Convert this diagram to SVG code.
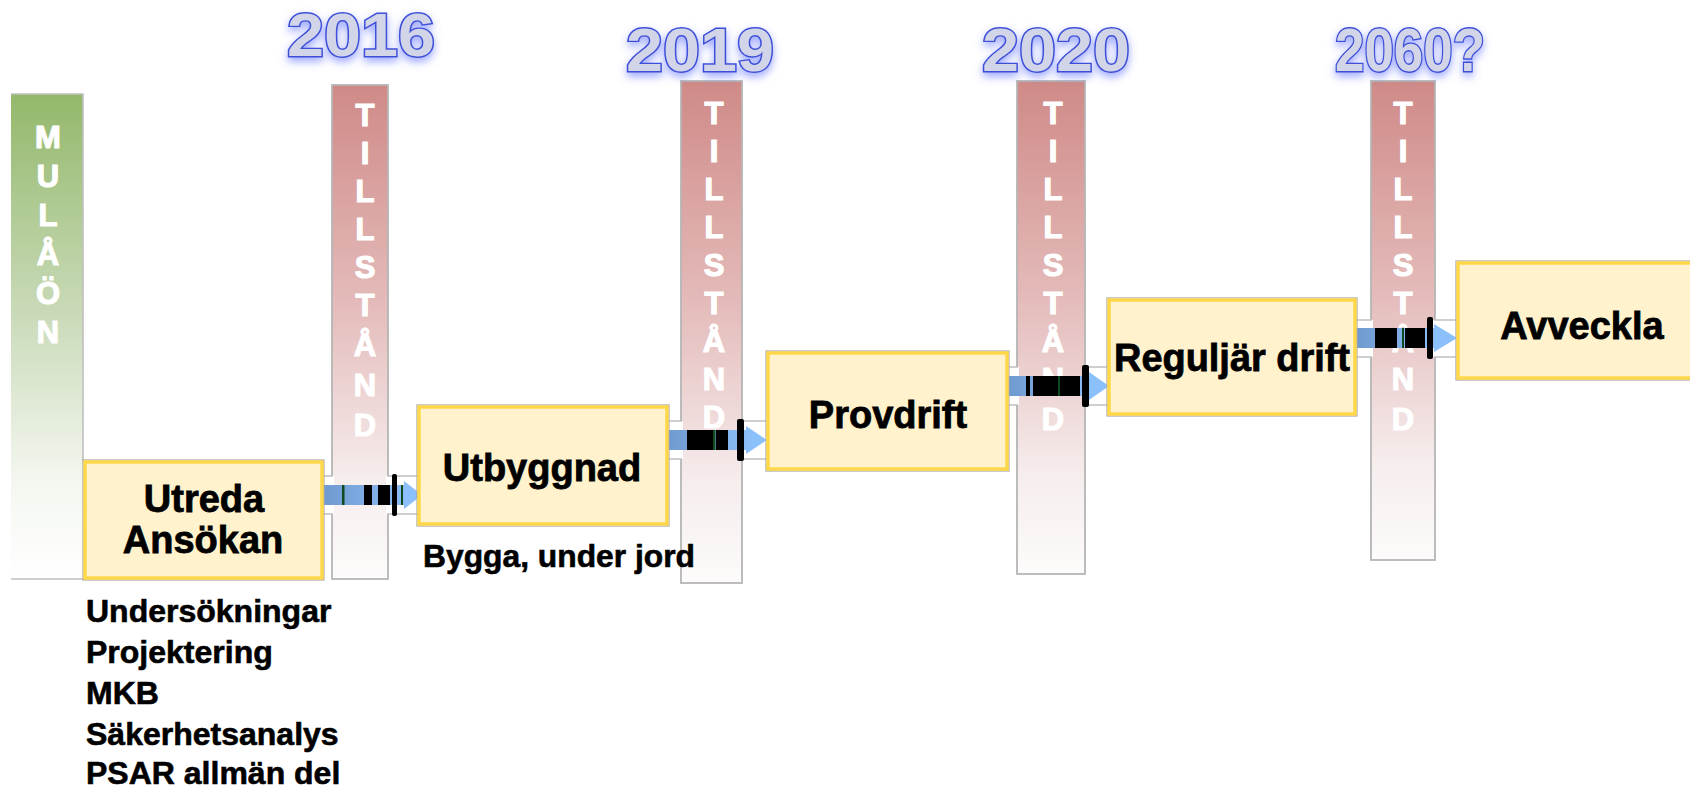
<svg xmlns="http://www.w3.org/2000/svg" width="1690" height="788" viewBox="0 0 1690 788">
<defs>
<style>
.box{fill:#fff2cc;stroke:#ffd84a;stroke-width:3.5}
.boxo{fill:none;stroke:#a8a8a8;stroke-width:1.2}
.bar{stroke:#b5b5b5;stroke-width:1.8}
.t{font-family:"Liberation Sans",Arial,sans-serif;font-weight:bold;font-size:38px;fill:#000;stroke:#000;stroke-width:0.8;text-anchor:middle}
.s{font-family:"Liberation Sans",Arial,sans-serif;font-weight:bold;font-size:32px;fill:#000;stroke:#000;stroke-width:0.6}
.v{font-family:"Liberation Sans",Arial,sans-serif;font-weight:bold;font-size:31px;fill:#fff;stroke:#fff;stroke-width:1.2;text-anchor:middle}
.yr{font-family:"Liberation Sans",Arial,sans-serif;font-weight:bold;font-size:62px;fill:#d2d5e8;stroke:#3d4fd8;stroke-width:2.8;paint-order:stroke;text-anchor:middle}
.ch{stroke:#c0c0c0;stroke-width:1.6;fill:none}
.chw{fill:#fff}
.blk{fill:#000}
.grn{fill:#0e4a20}
.head{fill:#8cc0fa}
</style>
<linearGradient id="gRed" x1="0" y1="0" x2="0" y2="1">
<stop offset="0" stop-color="#cf8a87"/>
<stop offset="0.45" stop-color="#e4bcbb"/>
<stop offset="0.8" stop-color="#f6eded"/>
<stop offset="1" stop-color="#fdfbfb"/>
</linearGradient>
<linearGradient id="gGreen" x1="0" y1="0" x2="0" y2="1">
<stop offset="0" stop-color="#93b86b"/>
<stop offset="0.45" stop-color="#c9dab8"/>
<stop offset="0.8" stop-color="#f4f7f0"/>
<stop offset="1" stop-color="#ffffff"/>
</linearGradient>
<linearGradient id="gBand" x1="0" y1="0" x2="1" y2="0">
<stop offset="0" stop-color="#6f9ad0"/>
<stop offset="1" stop-color="#8cbdf6"/>
</linearGradient>
<filter id="glow" x="-20%" y="-30%" width="140%" height="170%">
<feGaussianBlur in="SourceAlpha" stdDeviation="4"/>
<feOffset dx="0" dy="4" result="b"/>
<feFlood flood-color="#5a6cff" flood-opacity="0.6"/>
<feComposite in2="b" operator="in"/>
<feMerge><feMergeNode/><feMergeNode in="SourceGraphic"/></feMerge>
</filter>
</defs>
<rect width="1690" height="788" fill="#fff"/>

<g id="milj">
<rect x="11" y="94" width="72" height="485" fill="url(#gGreen)"/>
<path d="M11,94 H83 V462 M11,579 H84" class="ch" stroke="#b5b5b5"/>
<text class="v" x="48"><tspan x="48" y="148">M</tspan><tspan x="48" y="187">U</tspan><tspan x="48" y="226">L</tspan><tspan x="48" y="265">Å</tspan><tspan x="48" y="304">Ö</tspan><tspan x="48" y="343">N</tspan></text>
</g>

<g id="tillstand1">
<rect class="bar" x="332" y="85" width="56" height="494" fill="url(#gRed)"/>
<text class="v"><tspan x="365" y="126">T</tspan><tspan x="365" y="164">I</tspan><tspan x="365" y="202">L</tspan><tspan x="365" y="240">L</tspan><tspan x="365" y="278">S</tspan><tspan x="365" y="316">T</tspan><tspan x="365" y="356">Å</tspan><tspan x="365" y="396">N</tspan><tspan x="365" y="436">D</tspan></text>
</g>
<g id="tillstand2">
<rect class="bar" x="681" y="81" width="61" height="502" fill="url(#gRed)"/>
<text class="v"><tspan x="714" y="124">T</tspan><tspan x="714" y="162">I</tspan><tspan x="714" y="200">L</tspan><tspan x="714" y="238">L</tspan><tspan x="714" y="276">S</tspan><tspan x="714" y="314">T</tspan><tspan x="714" y="352">Å</tspan><tspan x="714" y="390">N</tspan><tspan x="714" y="428">D</tspan></text>
</g>
<g id="tillstand3">
<rect class="bar" x="1017" y="81" width="68" height="493" fill="url(#gRed)"/>
<text class="v"><tspan x="1053" y="124">T</tspan><tspan x="1053" y="162">I</tspan><tspan x="1053" y="200">L</tspan><tspan x="1053" y="238">L</tspan><tspan x="1053" y="276">S</tspan><tspan x="1053" y="314">T</tspan><tspan x="1053" y="352">Å</tspan><tspan x="1053" y="390">N</tspan><tspan x="1053" y="430">D</tspan></text>
</g>
<g id="tillstand4">
<rect class="bar" x="1371" y="81" width="64" height="479" fill="url(#gRed)"/>
<text class="v"><tspan x="1403" y="124">T</tspan><tspan x="1403" y="162">I</tspan><tspan x="1403" y="200">L</tspan><tspan x="1403" y="238">L</tspan><tspan x="1403" y="276">S</tspan><tspan x="1403" y="314">T</tspan><tspan x="1403" y="352">Å</tspan><tspan x="1403" y="390">N</tspan><tspan x="1403" y="430">D</tspan></text>
</g>

<g id="years">
<text class="yr" x="361" y="56" textLength="148" lengthAdjust="spacingAndGlyphs" filter="url(#glow)">2016</text>
<text class="yr" x="700" y="71" textLength="148" lengthAdjust="spacingAndGlyphs" filter="url(#glow)">2019</text>
<text class="yr" x="1056" y="71" textLength="148" lengthAdjust="spacingAndGlyphs" filter="url(#glow)">2020</text>
<text class="yr" x="1410" y="71" textLength="150" lengthAdjust="spacingAndGlyphs" filter="url(#glow)">2060?</text>
</g>

<g id="connectors">
<rect class="chw" x="323" y="476" width="11" height="38"/>
<rect class="chw" x="386" y="476" width="33" height="38"/>
<path class="ch" d="M323,476 H333 M323,514 H333 M387,476 H419 M387,514 H419"/>
<rect x="323" y="485" width="82" height="20" fill="url(#gBand)"/>
<rect class="grn" x="342" y="485" width="2.5" height="20"/>
<rect class="blk" x="364" y="485" width="8" height="20"/>
<rect class="blk" x="378" y="485" width="12" height="20"/>
<rect class="blk" x="392" y="474" width="5" height="42" rx="2"/>
<rect class="grn" x="401" y="485" width="2" height="20"/>
<polygon class="head" points="404,481 422,495 404,509"/>

<rect class="chw" x="668" y="421" width="15" height="38"/>
<rect class="chw" x="740" y="421" width="27" height="38"/>
<path class="ch" d="M668,421 H682 M668,459 H682 M741,421 H767 M741,459 H767"/>
<rect x="668" y="430" width="80" height="20" fill="url(#gBand)"/>
<rect class="blk" x="687" y="430" width="26" height="20"/>
<rect class="grn" x="713" y="430" width="2.5" height="20"/>
<rect class="blk" x="716" y="430" width="12" height="20"/>
<rect class="blk" x="737" y="419" width="7" height="42" rx="2"/>
<polygon class="head" points="746,426 767,440 746,454"/>

<rect class="chw" x="1008" y="367" width="11" height="38"/>
<rect class="chw" x="1083" y="367" width="25" height="38"/>
<path class="ch" d="M1008,367 H1018 M1008,405 H1018 M1084,367 H1108 M1084,405 H1108"/>
<rect x="1008" y="376" width="82" height="20" fill="url(#gBand)"/>
<rect class="blk" x="1026" y="376" width="4" height="20"/>
<rect class="blk" x="1033" y="376" width="47" height="20"/>
<rect class="grn" x="1058" y="376" width="2" height="20"/>
<rect class="blk" x="1082" y="365" width="7" height="42" rx="2"/>
<polygon class="head" points="1089,372 1109,386 1089,400"/>

<rect class="chw" x="1356" y="320" width="17" height="37"/>
<rect class="chw" x="1433" y="320" width="24" height="37"/>
<path class="ch" d="M1356,320 H1372 M1356,357 H1372 M1434,320 H1457 M1434,357 H1457"/>
<rect x="1356" y="328" width="80" height="20" fill="url(#gBand)"/>
<rect class="blk" x="1375" y="328" width="22" height="20"/>
<rect class="grn" x="1402" y="328" width="2" height="20"/>
<rect class="blk" x="1405" y="328" width="20" height="20"/>
<rect class="blk" x="1427" y="317" width="6" height="42" rx="2"/>
<polygon class="head" points="1434,324 1457,338 1434,352"/>
</g>

<g id="utreda">
<rect class="boxo" x="83" y="460" width="241" height="120"/>
<rect class="box" x="85" y="462" width="237" height="116"/>
<text class="t"><tspan x="204" y="512">Utreda</tspan><tspan x="203" y="553">Ansökan</tspan></text>
</g>
<g id="utreda-list">
<text class="s"><tspan x="86" y="622">Undersökningar</tspan><tspan x="86" y="663">Projektering</tspan><tspan x="86" y="704">MKB</tspan><tspan x="86" y="745">Säkerhetsanalys</tspan><tspan x="86" y="784">PSAR allmän del</tspan></text>
</g>
<g id="utbyggnad">
<rect class="boxo" x="417" y="405" width="252" height="121"/>
<rect class="box" x="419" y="407" width="248" height="117"/>
<text class="t" x="542" y="481">Utbyggnad</text>
<text class="s" x="423" y="567" textLength="272" lengthAdjust="spacingAndGlyphs">Bygga, under jord</text>
</g>
<g id="provdrift">
<rect class="boxo" x="766" y="351" width="243" height="120"/>
<rect class="box" x="768" y="353" width="239" height="116"/>
<text class="t" x="888" y="428">Provdrift</text>
</g>
<g id="reguljar">
<rect class="boxo" x="1107" y="298" width="250" height="118"/>
<rect class="box" x="1109" y="300" width="246" height="114"/>
<text class="t" x="1232" y="371" textLength="236" lengthAdjust="spacingAndGlyphs">Reguljär drift</text>
</g>
<g id="avveckla">
<rect class="boxo" x="1456" y="261" width="260" height="119"/>
<rect class="box" x="1458" y="263" width="256" height="115"/>
<text class="t" x="1582" y="339">Avveckla</text>
</g>
</svg>
